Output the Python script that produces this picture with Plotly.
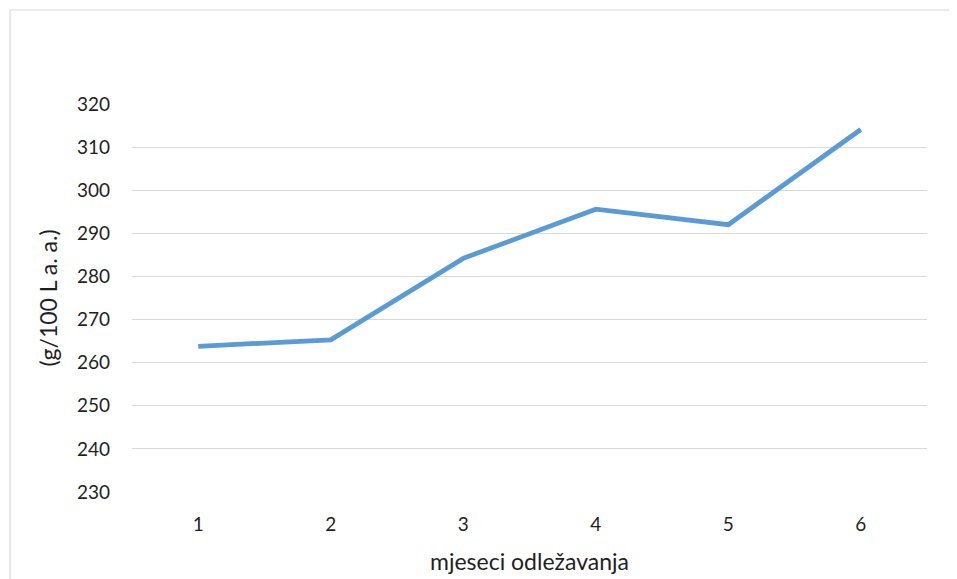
import plotly.graph_objects as go

months = ["1", "2", "3", "4", "5", "6"]
values = [263.8, 265.3, 284.2, 295.6, 292.0, 314.1]
y_ticks = [230, 240, 250, 260, 270, 280, 290, 300, 310, 320]

FONT = "Lato, Carlito, Calibri, sans-serif"
TEXT = "#1f1f1f"
GRID = "#D9D9D9"
LINE = "#5B9BD5"

# plot area in page pixels (figure is rendered with an 8px body offset)
L, R, T, B = 124, 38, 96, 95
PW, PH = 957 - L - R, 579 - T - B

fig = go.Figure(
    go.Scatter(x=months, y=values, mode="lines",
               line=dict(color=LINE, width=4.8), hoverinfo="x+y")
)

fig.update_layout(
    width=957, height=579,
    margin=dict(l=L, r=R, t=T, b=B),
    paper_bgcolor="white", plot_bgcolor="white",
    showlegend=False,
    font=dict(family=FONT, size=19, color=TEXT),
    xaxis=dict(
        type="category", range=[-0.5, 5.5], showgrid=False, zeroline=False,
        showline=False, ticks="", ticklabelstandoff=19,
        title=dict(text="mjeseci odležavanja", font=dict(size=23), standoff=19),
    ),
    yaxis=dict(
        range=[230, 320], tickvals=y_ticks, showgrid=True, gridcolor=GRID,
        gridwidth=1.2, zeroline=False, showline=False, ticks="",
        ticklabelstandoff=21,
        title=dict(text="(g/100 L a. a.)", font=dict(size=23), standoff=12),
    ),
    shapes=[
        dict(type="rect", xref="paper", yref="paper",
             x0=(2 - L) / PW, x1=1.2, y0=-0.5, y1=(PH + T - 2) / PH,
             line=dict(color=GRID, width=1.2), fillcolor="rgba(0,0,0,0)",
             layer="below"),
    ],
)

fig.write_html("out.html")
